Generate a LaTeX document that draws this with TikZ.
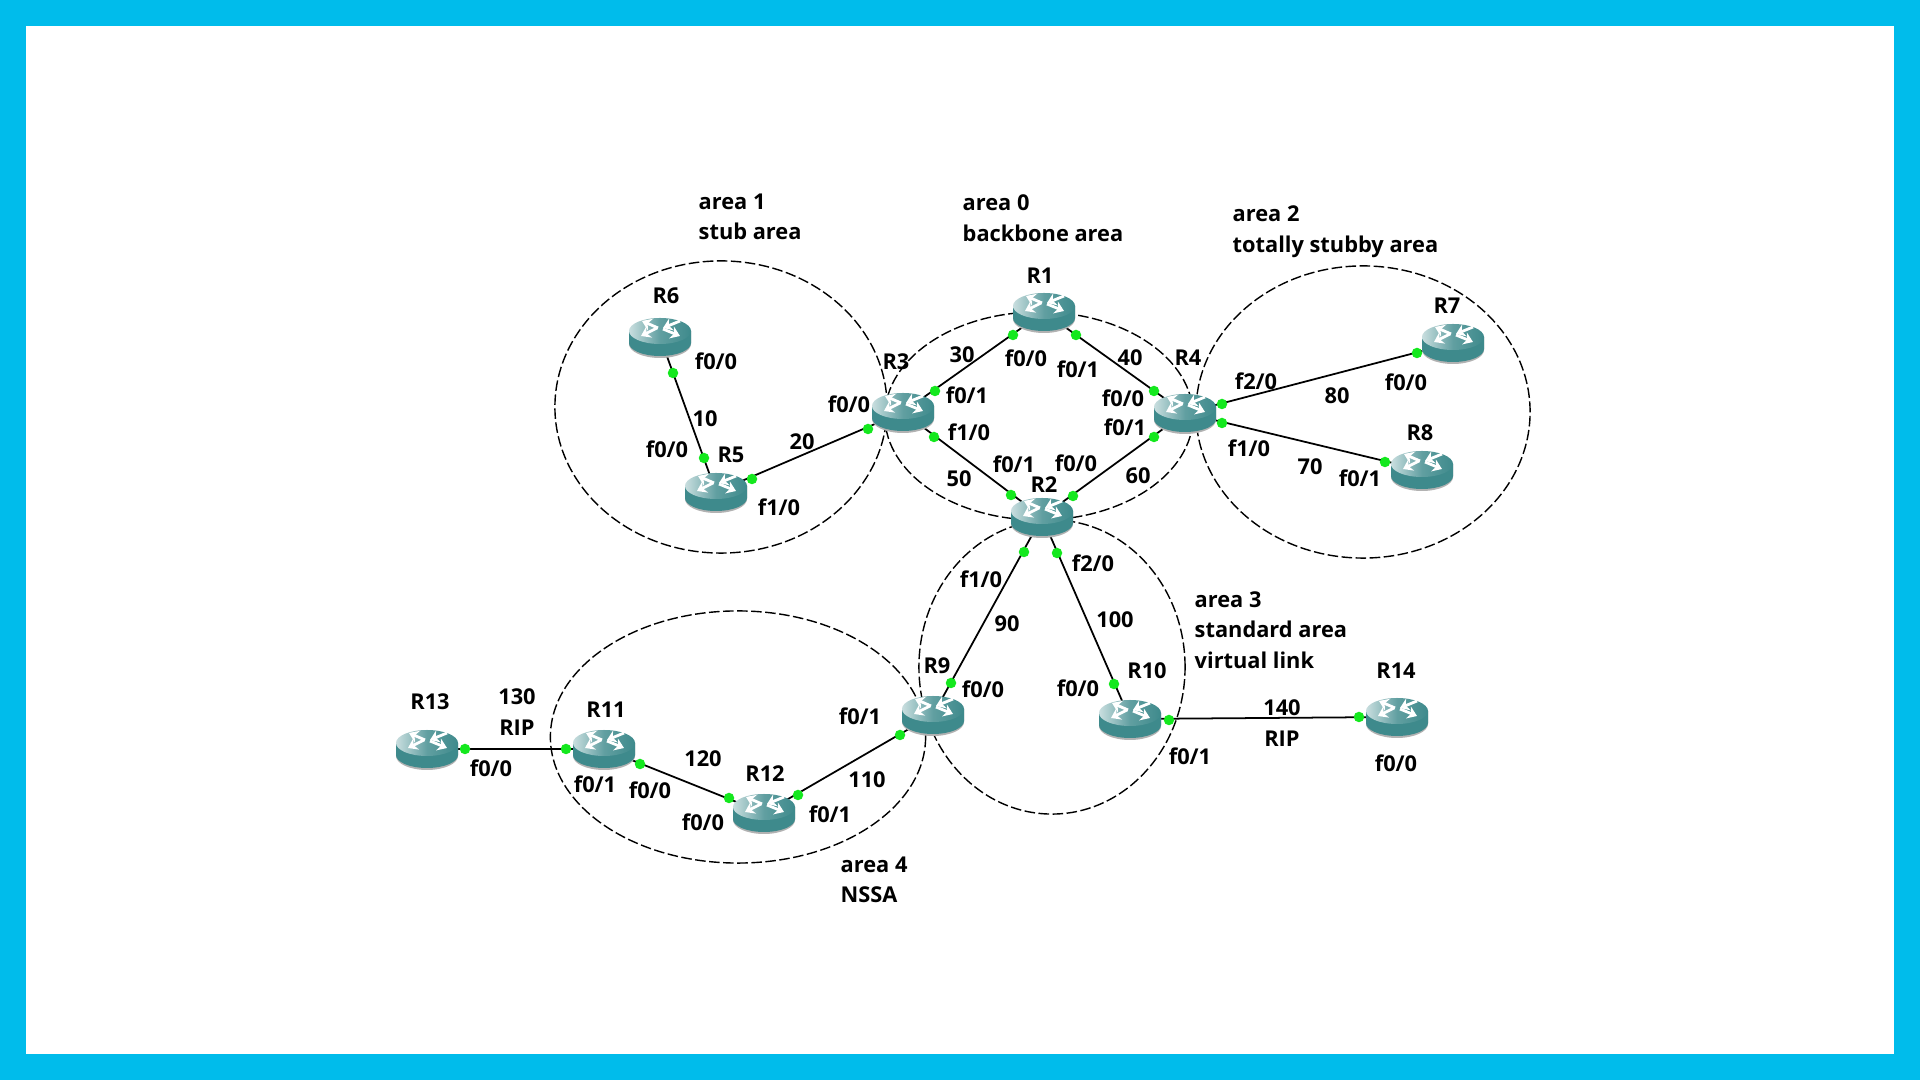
\documentclass[tikz,border=0pt]{standalone}
\usepackage{fontspec}
\setmainfont{Open Sans}
\usepackage{xcolor}
\usetikzlibrary{arrows.meta,backgrounds,shapes.geometric}
\definecolor{framecyan}{HTML}{00BCEB}
\definecolor{routerteal}{HTML}{3E8A8C}
\definecolor{routerpale}{HTML}{C9DEDF}
\definecolor{portgreen}{HTML}{14E81E}

\begin{document}
\begin{tikzpicture}[
	x=0.01cm, y=-0.01cm,
	font=\fontsize{6.2pt}{8.7pt}\selectfont\bfseries,
	area/.style={draw, dashed, dash pattern=on 3pt off 1pt, thin, ellipse, inner sep=0pt},
	link/.style={draw, line width=0.5pt},
	port/.style={circle, fill=portgreen, inner sep=0pt, minimum size=0.105cm},
	lbl/.style={inner sep=0pt, align=center},
	note/.style={inner sep=0pt, align=left, anchor=west},
	arr/.style={white, line width=0.8pt, -{Stealth[length=2.6pt,width=3.6pt]}},
	router/.style={minimum width=0.66cm, minimum height=0.44cm, inner sep=0pt,
		path picture={
			\begin{scope}[shift={(path picture bounding box.center)}]
				\fill[black!30] (-31,-6) -- (-31,7) arc[x radius=31, y radius=14, start angle=180, end angle=0] -- (31,-6) -- cycle;
				\fill[routerteal] (-31,-6) -- (-31,6) arc[x radius=31, y radius=13, start angle=180, end angle=0] -- (31,-6) -- cycle;
				\shade[left color=routerpale, right color=routerteal, middle color=routerteal!75!routerpale] (0,-6) ellipse[x radius=31, y radius=13];
				\draw[arr] (-2,-9) -- (-18,-16);
				\draw[arr] (20,-16) -- (3,-9);
				\draw[arr] (-3,-9) -- (-19,-1);
				\draw[arr] (3,-8) -- (20,-1);
			\end{scope}
		}}
	]
	\useasboundingbox (0,0) rectangle (1920,1080);

	% routers
	\node[router] (r1) at (1044,312) {};
	\node[router] (r2) at (1042,517) {};
	\node[router] (r3) at (903,412) {};
	\node[router] (r4) at (1185,413) {};
	\node[router] (r5) at (716,492) {};
	\node[router] (r6) at (660,337) {};
	\node[router] (r7) at (1453,343) {};
	\node[router] (r8) at (1422,470) {};
	\node[router] (r9) at (933,715) {};
	\node[router] (r10) at (1130,719) {};
	\node[router] (r11) at (604,749) {};
	\node[router] (r12) at (764,813) {};
	\node[router] (r13) at (427,749) {};
	\node[router] (r14) at (1397,717) {};

	% frame, areas and links go behind the routers
	\begin{scope}[on background layer]
		\fill[framecyan] (0,0) rectangle (1920,1080);
		\fill[white] (26,26) rectangle (1894,1054);
		\node[area, minimum width=3.32cm, minimum height=2.92cm] (a1) at (721,407) {};
		\node[area, minimum width=3.08cm, minimum height=2.08cm] (a0) at (1039,416) {};
		\node[area, minimum width=3.34cm, minimum height=2.92cm] (a2) at (1363,412) {};
		\node[area, minimum width=2.66cm, minimum height=2.94cm] (a3) at (1052,667) {};
		\node[area, minimum width=3.75cm, minimum height=2.52cm] (a4) at (738,737) {};
		\draw[link] (r6.center) -- (r5.center);
		\draw[link] (r5.center) -- (r3.center);
		\draw[link] (r3.center) -- (r1.center);
		\draw[link] (r1.center) -- (r4.center);
		\draw[link] (r3.center) -- (r2.center);
		\draw[link] (r4.center) -- (r2.center);
		\draw[link] (r4.center) -- (r7.center);
		\draw[link] (r4.center) -- (r8.center);
		\draw[link] (r2.center) -- (r9.center);
		\draw[link] (r2.center) -- (r10.center);
		\draw[link] (r9.center) -- (r12.center);
		\draw[link] (r12.center) -- (r11.center);
		\draw[link] (r11.center) -- (r13.center);
		\draw[link] (r10.center) -- (r14.center);
	\end{scope}

	% green port dots
	\node[port] (d1) at (673,373) {};
	\node[port] (d2) at (704,458) {};
	\node[port] (d3) at (752,479) {};
	\node[port] (d4) at (868,429) {};
	\node[port] (d5) at (935,391) {};
	\node[port] (d6) at (934,437) {};
	\node[port] (d7) at (1013,335) {};
	\node[port] (d8) at (1076,335) {};
	\node[port] (d9) at (1154,391) {};
	\node[port] (d10) at (1154,437) {};
	\node[port] (d11) at (1011,495) {};
	\node[port] (d12) at (1073,496) {};
	\node[port] (d13) at (1222,404) {};
	\node[port] (d14) at (1222,423) {};
	\node[port] (d15) at (1417,353) {};
	\node[port] (d16) at (1385,462) {};
	\node[port] (d17) at (1024,552) {};
	\node[port] (d18) at (1057,553) {};
	\node[port] (d19) at (951,683) {};
	\node[port] (d20) at (1114,684) {};
	\node[port] (d21) at (900,735) {};
	\node[port] (d22) at (798,795) {};
	\node[port] (d23) at (729,798) {};
	\node[port] (d24) at (640,764) {};
	\node[port] (d25) at (566,749) {};
	\node[port] (d26) at (465,749) {};
	\node[port] (d27) at (1169,720) {};
	\node[port] (d28) at (1359,717) {};

	% area names
	\node[note] (n1) at (698,217) {area 1\\stub area};
	\node[note] (n0) at (962,218) {area 0\\backbone area};
	\node[note] (n2) at (1232,232) {area 2\\totally stubby area};
	\node[note] (n3) at (1194,630) {area 3\\standard area\\virtual link};
	\node[note] (n4) at (840,880) {area 4\\NSSA};

	% router names
	\node[lbl] (t1) at (1040,276) {R1};
	\node[lbl] (t2) at (1044,485) {R2};
	\node[lbl] (t3) at (896,362) {R3};
	\node[lbl] (t4) at (1188,358) {R4};
	\node[lbl] (t5) at (731,455) {R5};
	\node[lbl] (t6) at (666,296) {R6};
	\node[lbl] (t7) at (1447,306) {R7};
	\node[lbl] (t8) at (1420,433) {R8};
	\node[lbl] (t9) at (937,666) {R9};
	\node[lbl] (t10) at (1147,671) {R10};
	\node[lbl] (t11) at (606,710) {R11};
	\node[lbl] (t12) at (765,774) {R12};
	\node[lbl] (t13) at (430,702) {R13};
	\node[lbl] (t14) at (1396,671) {R14};

	% link numbers
	\node[lbl] (c10) at (705,419) {10};
	\node[lbl] (c20) at (802,442) {20};
	\node[lbl] (c30) at (962,355) {30};
	\node[lbl] (c40) at (1130,358) {40};
	\node[lbl] (c50) at (959,479) {50};
	\node[lbl] (c60) at (1138,476) {60};
	\node[lbl] (c70) at (1310,467) {70};
	\node[lbl] (c80) at (1337,396) {80};
	\node[lbl] (c90) at (1007,624) {90};
	\node[lbl] (c100) at (1115,620) {100};
	\node[lbl] (c110) at (867,780) {110};
	\node[lbl] (c120) at (703,759) {120};
	\node[lbl] (c130) at (517,712) {130\\RIP};
	\node[lbl] (c140) at (1282,723) {140\\RIP};

	% interface names
	\node[lbl] (p1) at (716,361) {f0/0};
	\node[lbl] (p2) at (667,449) {f0/0};
	\node[lbl] (p3) at (779,507) {f1/0};
	\node[lbl] (p4) at (849,404) {f0/0};
	\node[lbl] (p5) at (967,395) {f0/1};
	\node[lbl] (p6) at (969,432) {f1/0};
	\node[lbl] (p7) at (1026,358) {f0/0};
	\node[lbl] (p8) at (1078,369) {f0/1};
	\node[lbl] (p9) at (1123,398) {f0/0};
	\node[lbl] (p10) at (1125,427) {f0/1};
	\node[lbl] (p11) at (1014,464) {f0/1};
	\node[lbl] (p12) at (1076,463) {f0/0};
	\node[lbl] (p13) at (1256,381) {f2/0};
	\node[lbl] (p14) at (1249,448) {f1/0};
	\node[lbl] (p15) at (1406,382) {f0/0};
	\node[lbl] (p16) at (1360,478) {f0/1};
	\node[lbl] (p17) at (981,579) {f1/0};
	\node[lbl] (p18) at (1093,563) {f2/0};
	\node[lbl] (p19) at (983,689) {f0/0};
	\node[lbl] (p20) at (1078,688) {f0/0};
	\node[lbl] (p21) at (860,716) {f0/1};
	\node[lbl] (p22) at (1190,756) {f0/1};
	\node[lbl] (p23) at (1396,763) {f0/0};
	\node[lbl] (p24) at (491,768) {f0/0};
	\node[lbl] (p25) at (595,784) {f0/1};
	\node[lbl] (p26) at (650,790) {f0/0};
	\node[lbl] (p27) at (703,822) {f0/0};
	\node[lbl] (p28) at (830,814) {f0/1};
\end{tikzpicture}
\end{document}
